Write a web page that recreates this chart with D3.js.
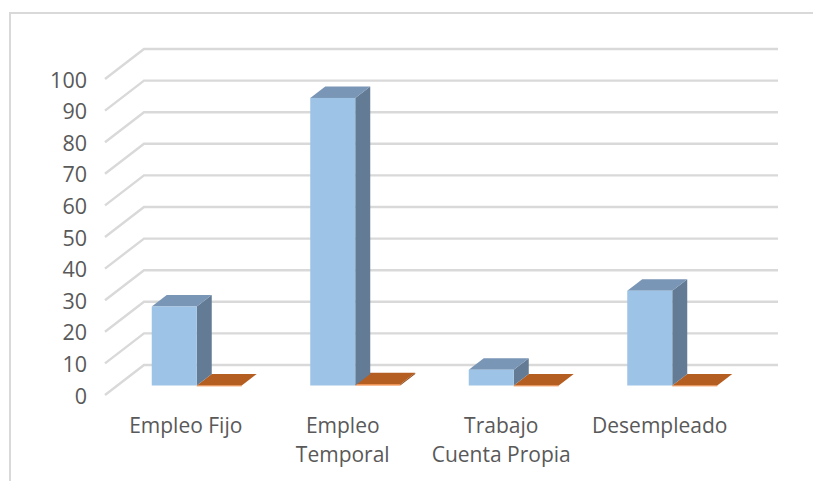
<!DOCTYPE html>
<html><head><meta charset="utf-8">
<script src="https://cdn.jsdelivr.net/npm/d3@7/dist/d3.min.js"></script>
<style>html,body{margin:0;padding:0;background:#fff}svg{display:block}</style>
</head><body><svg id="c" width="813" height="481"></svg>
<script>
const categories = ["Empleo Fijo", "Empleo Temporal", "Trabajo Cuenta Propia", "Desempleado"];
const categoryLines = [["Empleo Fijo"], ["Empleo", "Temporal"], ["Trabajo", "Cuenta Propia"], ["Desempleado"]];
const seriesA = [25, 91, 5, 30];
const seriesB = [0, 0.4, 0, 0];
const yTicks = [0, 10, 20, 30, 40, 50, 60, 70, 80, 90, 100];

const svg = d3.select("#c");
const font = "'Open Sans', sans-serif";
const y = d3.scaleLinear().domain([0, 100]).range([395, 79]);
const x = d3.scaleBand().domain(categories).range([105, 739]);
const wall = {dx: 39, dy: -30};
const plane = {dx: 12.5, dy: -9.5};
const bar = {dx: 15, dy: -11.5};
const barW = 45;
const grid = "#d9d9d9";

// outer frame: top and left edges only, both run off the picture
svg.append("path").attr("d", "M10,481V13H813").attr("fill", "none").attr("stroke", grid).attr("stroke-width", 2);

// gridlines: side wall + back wall
svg.append("g").selectAll("path").data(yTicks).join("path")
  .attr("fill", "none").attr("stroke", grid).attr("stroke-width", 2.4)
  .attr("d", d => {
    const yy = y(d);
    return `M${x.range()[0]},${yy}L${x.range()[0] + wall.dx},${yy + wall.dy}L${x.range()[1] + wall.dx},${yy + wall.dy}`;
  });

// y labels
svg.append("g").selectAll("text").data(yTicks).join("text")
  .attr("x", 87).attr("y", d => y(d) + 1).attr("dy", "0.35em")
  .attr("text-anchor", "end").attr("font-family", font).attr("font-size", 21.5).attr("fill", "#595959")
  .text(d => d);

// 3D box
function box(g, x0, y0, h, w, c) {
  const top = y0 - h;
  g.append("path").attr("fill", c.side)
    .attr("d", `M${x0 + w},${y0}L${x0 + w + bar.dx},${y0 + bar.dy}V${top + bar.dy}L${x0 + w},${top}Z`);
  g.append("path").attr("fill", c.top)
    .attr("d", `M${x0},${top}L${x0 + bar.dx},${top + bar.dy}H${x0 + w + bar.dx}L${x0 + w},${top}Z`);
  g.append("rect").attr("x", x0).attr("y", top).attr("width", w).attr("height", Math.max(h, 0.8)).attr("fill", c.front);
}
const blue = {front: "#9dc3e6", top: "#7a96b6", side: "#637b94"};
const orange = {front: "#ed7d31", top: "#b55e22", side: "#8f4a1b"};
const marks = svg.append("g");
const y0 = y(0) + plane.dy;
categories.forEach((c, i) => {
  const start = x(c) + plane.dx + (x.bandwidth() - 2 * barW) / 2;
  box(marks, start + barW, y0, y(0) - y(seriesB[i]), barW, orange);
  box(marks, start, y0, y(0) - y(seriesA[i]), barW, blue);
});

// category labels
const labels = svg.append("g").attr("font-family", font).attr("font-size", 21).attr("fill", "#595959").attr("text-anchor", "middle");
categories.forEach((c, i) => {
  categoryLines[i].forEach((line, k) => {
    labels.append("text").attr("x", x(c) + x.bandwidth() / 2 + (i === 0 ? 1.5 : 0)).attr("y", 433 + k * 29).text(line);
  });
});
</script></body></html>
